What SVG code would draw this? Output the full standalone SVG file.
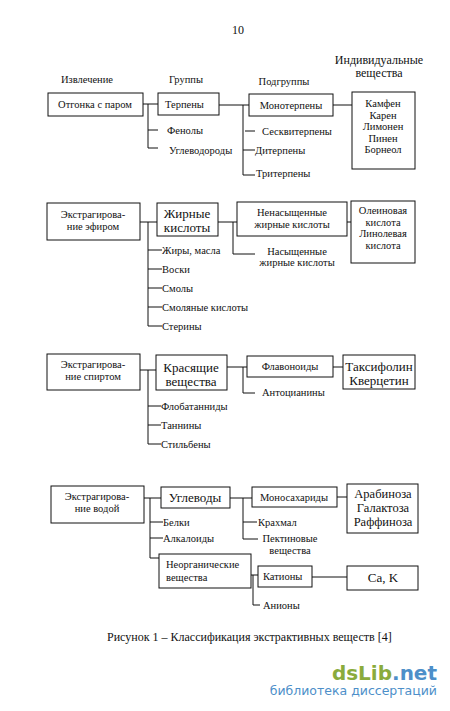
<svg xmlns="http://www.w3.org/2000/svg" width="450" height="711" viewBox="0 0 450 711">
<style>
text{font-family:"Liberation Serif","Times New Roman",serif;fill:#111;}
.s{font-size:10.5px;}
.m{font-size:12px;}
.l{font-size:13px;}
.c{text-anchor:middle;}
rect.b{fill:#fff;stroke:#111;stroke-width:1;}
#connectors line{stroke:#111;stroke-width:1;}
</style>
<rect width="450" height="711" fill="#fff"/>
<text class="m c" x="238" y="34">10</text>
<g id="headers">
<text class="s c" x="87" y="83">Извлечение</text>
<text class="s c" x="186" y="83">Группы</text>
<text class="s c" x="284" y="85">Подгруппы</text>
<text class="m c" x="379" y="64">Индивидуальные</text>
<text class="m c" x="379" y="77">вещества</text>
</g>
<g id="connectors">
<line x1="143" y1="104" x2="158" y2="104"/>
<line x1="148" y1="104" x2="148" y2="148"/>
<line x1="148" y1="130" x2="158" y2="130"/>
<line x1="148" y1="148" x2="158" y2="148"/>
<line x1="219" y1="105" x2="249" y2="105"/>
<line x1="243" y1="105" x2="243" y2="175"/>
<line x1="245" y1="131" x2="255" y2="131"/>
<line x1="243" y1="150" x2="255" y2="150"/>
<line x1="243" y1="175" x2="255" y2="175"/>
<line x1="333" y1="105" x2="352" y2="105"/>
<line x1="140" y1="222" x2="157" y2="222"/>
<line x1="148" y1="222" x2="148" y2="326"/>
<line x1="148" y1="250" x2="162" y2="250"/>
<line x1="148" y1="269" x2="162" y2="269"/>
<line x1="148" y1="288" x2="162" y2="288"/>
<line x1="148" y1="307" x2="162" y2="307"/>
<line x1="148" y1="326" x2="162" y2="326"/>
<line x1="218" y1="222" x2="237" y2="222"/>
<line x1="233" y1="222" x2="233" y2="254"/>
<line x1="233" y1="254" x2="255" y2="254"/>
<line x1="347" y1="222" x2="351" y2="222"/>
<line x1="140" y1="370" x2="156" y2="370"/>
<line x1="148" y1="370" x2="148" y2="444"/>
<line x1="148" y1="406" x2="161" y2="406"/>
<line x1="148" y1="425" x2="161" y2="425"/>
<line x1="148" y1="444" x2="161" y2="444"/>
<line x1="227" y1="367" x2="247" y2="367"/>
<line x1="243" y1="367" x2="243" y2="393"/>
<line x1="243" y1="393" x2="255" y2="393"/>
<line x1="333" y1="367" x2="343" y2="367"/>
<line x1="144" y1="498" x2="161" y2="498"/>
<line x1="150" y1="498" x2="150" y2="558"/>
<line x1="150" y1="522" x2="163" y2="522"/>
<line x1="150" y1="538" x2="163" y2="538"/>
<line x1="150" y1="558" x2="159" y2="558"/>
<line x1="230" y1="498" x2="252" y2="498"/>
<line x1="243" y1="498" x2="243" y2="539"/>
<line x1="243" y1="522" x2="257" y2="522"/>
<line x1="243" y1="539" x2="258" y2="539"/>
<line x1="337" y1="497" x2="347" y2="497"/>
<line x1="251" y1="575" x2="258" y2="575"/>
<line x1="253" y1="575" x2="253" y2="605"/>
<line x1="253" y1="605" x2="260" y2="605"/>
<line x1="312" y1="577" x2="347" y2="577"/>
</g>
<g id="n-otgonka"><rect class="b" x="48" y="93" width="95" height="23"/><text class="s c" x="95" y="108">Отгонка с паром</text></g>
<g id="n-terpeny"><rect class="b" x="158" y="93" width="61" height="22"/><text class="s" x="165" y="108">Терпены</text></g>
<g id="n-fenoly"><text class="s" x="167" y="134">Фенолы</text></g>
<g id="n-uglevodorody"><text class="s" x="169" y="154">Углеводороды</text></g>
<g id="n-monoterpeny"><rect class="b" x="249" y="94" width="84" height="22"/><text class="s c" x="291" y="109">Монотерпены</text></g>
<g id="n-seskviterpeny"><text class="s" x="262" y="135">Сесквитерпены</text></g>
<g id="n-diterpeny"><text class="s" x="255" y="154">Дитерпены</text></g>
<g id="n-triterpeny"><text class="s" x="256" y="177">Тритерпены</text></g>
<g id="n-ind1"><rect class="b" x="352" y="92" width="63" height="77"/>
<text class="s c" x="383" y="107">Камфен</text>
<text class="s c" x="383" y="119">Карен</text>
<text class="s c" x="383" y="130">Лимонен</text>
<text class="s c" x="383" y="142">Пинен</text>
<text class="s c" x="383" y="153">Борнеол</text></g>
<g id="n-efir"><rect class="b" x="47" y="203" width="93" height="37"/><text class="s c" x="93" y="218">Экстрагирова-</text><text class="s c" x="93" y="230">ние эфиром</text></g>
<g id="n-zhirnye"><rect class="b" x="157" y="203" width="61" height="33"/><text class="l c" x="187" y="218">Жирные</text><text class="l c" x="187" y="232">кислоты</text></g>
<g id="n-zhiry"><text class="s" x="162" y="254">Жиры, масла</text></g>
<g id="n-voski"><text class="s" x="162" y="273">Воски</text></g>
<g id="n-smoly"><text class="s" x="162" y="292">Смолы</text></g>
<g id="n-smol-kisl"><text class="s" x="162" y="311">Смоляные кислоты</text></g>
<g id="n-steriny"><text class="s" x="162" y="330">Стерины</text></g>
<g id="n-nenas"><rect class="b" x="237" y="202" width="110" height="34"/><text class="s c" x="292" y="216">Ненасыщенные</text><text class="s c" x="292" y="228">жирные кислоты</text></g>
<g id="n-nas"><text class="s c" x="297" y="255">Насыщенные</text><text class="s c" x="297" y="266">жирные кислоты</text></g>
<g id="n-ind2"><rect class="b" x="351" y="201" width="64" height="62"/>
<text class="s c" x="383" y="214">Олеиновая</text>
<text class="s c" x="383" y="226">кислота</text>
<text class="s c" x="383" y="237">Линолевая</text>
<text class="s c" x="383" y="249">кислота</text></g>
<g id="n-spirt"><rect class="b" x="47" y="354" width="93" height="36"/><text class="s c" x="93" y="368">Экстрагирова-</text><text class="s c" x="93" y="380">ние спиртом</text></g>
<g id="n-krasyashchie"><rect class="b" x="156" y="355" width="71" height="35"/><text class="l c" x="191" y="372">Красящие</text><text class="l c" x="191" y="386">вещества</text></g>
<g id="n-flobat"><text class="s" x="161" y="410">Флобатанниды</text></g>
<g id="n-tanniny"><text class="s" x="161" y="429">Таннины</text></g>
<g id="n-stilbeny"><text class="s" x="161" y="448">Стильбены</text></g>
<g id="n-flavonoidy"><rect class="b" x="247" y="356" width="86" height="21"/><text class="s c" x="290" y="370">Флавоноиды</text></g>
<g id="n-antociany"><text class="s" x="262" y="396">Антоцианины</text></g>
<g id="n-ind3"><rect class="b" x="343" y="355" width="72" height="34"/><text class="l c" x="379" y="371">Таксифолин</text><text class="l c" x="379" y="385">Кверцетин</text></g>
<g id="n-voda"><rect class="b" x="51" y="486" width="93" height="37"/><text class="s c" x="97" y="500">Экстрагирова-</text><text class="s c" x="97" y="512">ние водой</text></g>
<g id="n-uglevody"><rect class="b" x="161" y="487" width="69" height="21"/><text class="l c" x="195" y="502">Углеводы</text></g>
<g id="n-belki"><text class="s" x="163" y="526">Белки</text></g>
<g id="n-alkaloidy"><text class="s" x="163" y="542">Алкалоиды</text></g>
<g id="n-neorg"><rect class="b" x="159" y="554" width="92" height="34"/><text class="s" x="166" y="568">Неорганические</text><text class="s" x="166" y="581">вещества</text></g>
<g id="n-monosah"><rect class="b" x="252" y="487" width="85" height="20"/><text class="s c" x="294" y="501">Моносахариды</text></g>
<g id="n-krahmal"><text class="s" x="258" y="526">Крахмал</text></g>
<g id="n-pektin"><text class="s c" x="290" y="542">Пектиновые</text><text class="s c" x="290" y="554">вещества</text></g>
<g id="n-ind4"><rect class="b" x="347" y="484" width="71" height="49"/>
<text class="c" style="font-size:12.5px" x="383" y="498">Арабиноза</text>
<text class="c" style="font-size:12.5px" x="383" y="512">Галактоза</text>
<text class="c" style="font-size:12.5px" x="383" y="526">Раффиноза</text></g>
<g id="n-kationy"><rect class="b" x="258" y="566" width="54" height="21"/><text class="s" x="263" y="580">Катионы</text></g>
<g id="n-aniony"><text class="s" x="263" y="609">Анионы</text></g>
<g id="n-cak"><rect class="b" x="347" y="566" width="71" height="24"/><text class="l c" x="383" y="582">Ca, K</text></g>
<text class="m" x="107" y="641">Рисунок 1 – Классификация экстрактивных веществ [4]</text>
<g id="watermark">
<text x="437" y="680" text-anchor="end" style="font-family:'DejaVu Sans',sans-serif;font-size:20px;font-weight:bold;"><tspan fill="#8aab3c">dsLib</tspan><tspan fill="#4d8fc9">.net</tspan></text>
<text x="437" y="695" text-anchor="end" style="font-family:'DejaVu Sans',sans-serif;font-size:12.5px;fill:#4d8fc9;">библиотека диссертаций</text>
</g>
</svg>
